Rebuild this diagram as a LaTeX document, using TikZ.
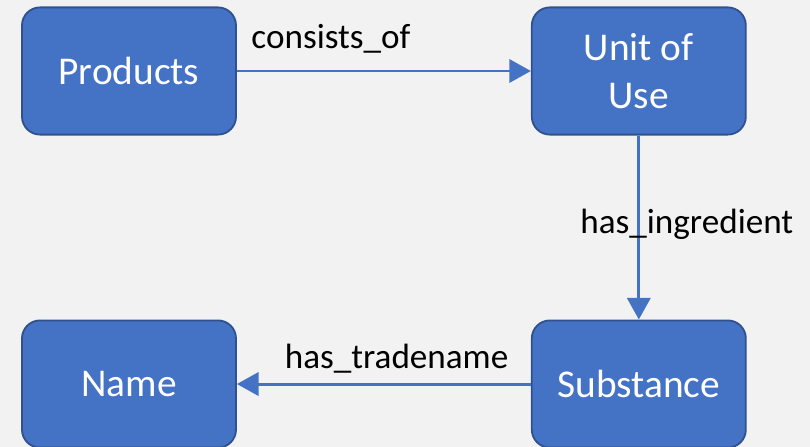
\documentclass[tikz,border=0pt]{standalone}
\usepackage{fontspec}
\setmainfont{Carlito}
\usepackage{xcolor}
\usepackage{tikz}
\usetikzlibrary{positioning,arrows.meta}

\definecolor{boxblue}{HTML}{4472C4}
\definecolor{boxedge}{HTML}{2F528F}
\definecolor{paper}{HTML}{F2F2F2}

\begin{document}
\begin{tikzpicture}[
  entity/.style={rectangle, rounded corners=0.45cm, minimum width=5.35cm, minimum height=3.18cm, inner sep=0pt, align=center, text centered, fill=boxblue, draw=boxedge, line width=1.3pt, text=white, font=\fontsize{28}{34}\selectfont},
  rel/.style={draw=boxblue, line width=2.1pt, -{Triangle[length=0.54cm, width=0.58cm]}},
  lbl/.style={anchor=base, inner sep=0pt, text=black, font=\fontsize{25}{30}\selectfont}
]
\fill[paper] (-3.225,1.775) rectangle (17.025,-9.4);
\useasboundingbox (-3.225,1.775) rectangle (17.025,-9.4);

\node (products) [entity] at (0,0) {Products};
\node (unit) [entity, right=7.35cm of products] {Unit of\\Use};
\node (substance) [entity, below=4.6cm of unit] {Substance};
\node (name) [entity, left=7.35cm of substance] {Name};

\draw[rel] (products) -- node[lbl, pos=0.32, yshift=0.55cm] {consists\_of} (unit);
\draw[rel] (unit) -- node[lbl, pos=0.533, xshift=1.2cm] {has\_ingredient} (substance);
\draw[rel] (substance) -- node[lbl, pos=0.457, yshift=0.4cm] {has\_tradename} (name);
\end{tikzpicture}
\end{document}
